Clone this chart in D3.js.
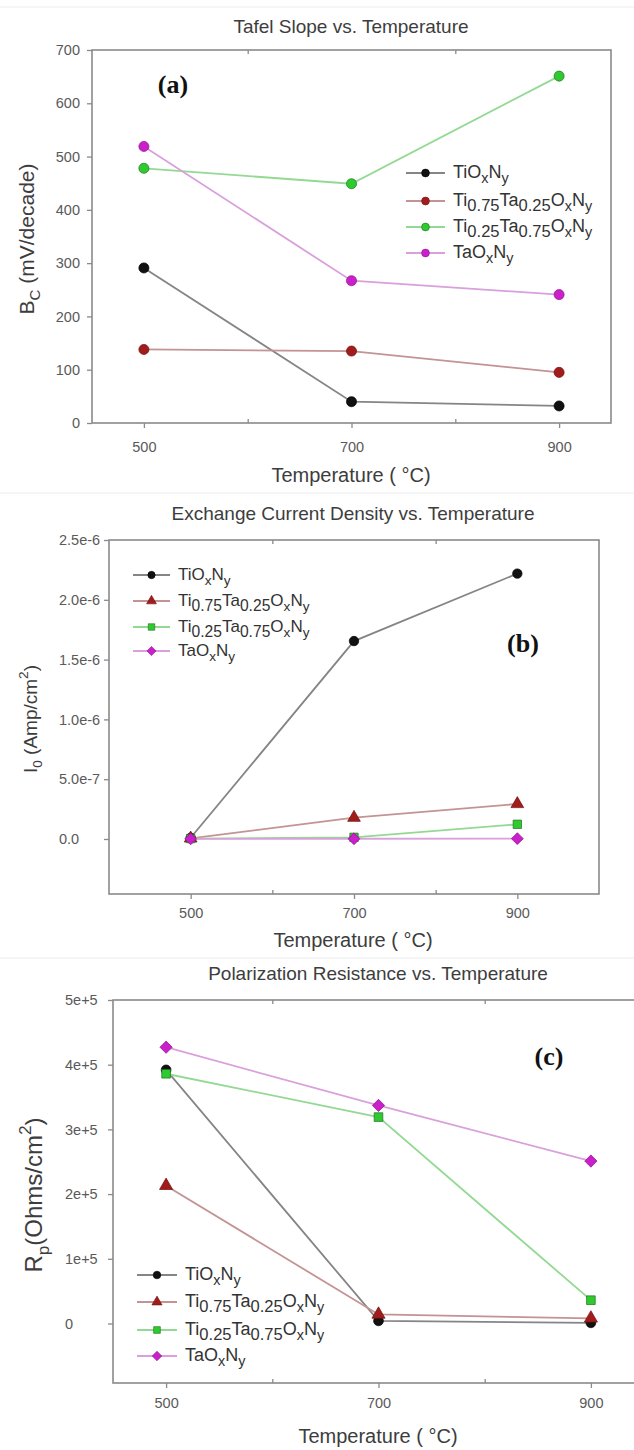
<!DOCTYPE html>
<html>
<head>
<meta charset="utf-8">
<script src="https://cdn.jsdelivr.net/npm/d3@7"></script>
<style>
  body { margin: 0; background: #fff; }
  svg { display: block; font-family: "Liberation Sans", Arial, sans-serif; }
</style>
</head>
<body>
<div id="chart"></div>
<script>
// temperatures shared by the three panels
const temps = [500, 700, 900];
const xTickLabels = ["500", "700", "900"];
const seriesLabels = ["TiO_{x}N_{y}", "Ti_{0.75}Ta_{0.25}O_{x}N_{y}", "Ti_{0.25}Ta_{0.75}O_{x}N_{y}", "TaO_{x}N_{y}"];

// (a) Tafel slope, mV/decade
const bcTiOxNy = [291, 40, 32];
const bcTi75Ta25 = [138, 135, 95];
const bcTi25Ta75 = [478, 449, 651];
const bcTaOxNy = [519, 267, 241];
const bcTicks = [0, 100, 200, 300, 400, 500, 600, 700];
const bcTickLabels = ["0", "100", "200", "300", "400", "500", "600", "700"];

// (b) exchange current density, Amp/cm2
const i0TiOxNy = [0.01e-6, 1.655e-6, 2.219e-6];
const i0Ti75Ta25 = [0.005e-6, 0.178e-6, 0.293e-6];
const i0Ti25Ta75 = [0.003e-6, 0.014e-6, 0.123e-6];
const i0TaOxNy = [0.001e-6, 0.002e-6, 0.003e-6];
const i0Ticks = [0, 5e-7, 1e-6, 1.5e-6, 2e-6, 2.5e-6];
const i0TickLabels = ["0.0", "5.0e-7", "1.0e-6", "1.5e-6", "2.0e-6", "2.5e-6"];

// (c) polarization resistance, Ohms/cm2
const rpTiOxNy = [3.92e5, 0.04e5, 0.01e5];
const rpTi75Ta25 = [2.13e5, 0.14e5, 0.08e5];
const rpTi25Ta75 = [3.86e5, 3.19e5, 0.36e5];
const rpTaOxNy = [4.27e5, 3.37e5, 2.51e5];
const rpTicks = [0, 1e5, 2e5, 3e5, 4e5, 5e5];
const rpTickLabels = ["0", "1e+5", "2e+5", "3e+5", "4e+5", "5e+5"];

const lineColors = ["#858585", "#c49393", "#93d993", "#d9a0dc"];
const markColors = ["#111111", "#a31c1c", "#2ecb2e", "#cc1fcc"];
const markEdges = ["#000000", "#6e1010", "#1f6f1f", "#8a168a"];

const W = 634, H = 1450;
const svg = d3.select("#chart").append("svg")
    .attr("width", W)
    .attr("height", H);

// faint separators between the stacked figures
[7, 493, 958].forEach(y => {
  svg.append("line").attr("x1", 0).attr("x2", W).attr("y1", y).attr("y2", y)
     .attr("stroke", "#ececec").attr("stroke-width", 1);
});

// text with _{sub} and ^{sup} parts
function rich(t, str, fs, subScale) {
  const re = /([_^])\{([^}]*)\}|([^_^]+)/g;
  let m, cur = 0;
  while ((m = re.exec(str))) {
    let target = 0, size = fs, txt = m[3];
    if (m[1] === "_") { txt = m[2]; target = fs * 0.28; size = fs * subScale(txt); }
    else if (m[1] === "^") { txt = m[2]; target = -fs * 0.45; size = fs * 0.72; }
    t.append("tspan").attr("dy", target - cur).style("font-size", size + "px").text(txt);
    cur = target;
  }
}
const legendSub = s => /\d/.test(s) ? 0.92 : 0.8;

const panels = [
  {
    title: "Tafel Slope vs. Temperature", titleX: 351, titleY: 33,
    left: 92, right: 611, top: 50, bottom: 423, xRangeEnd: 611,
    xDomain: [450, 950], yDomain: [0, 700],
    yTicks: bcTicks, yTickLabels: bcTickLabels, yLabelAt: 80, yAnchor: "end", xPad: 14,
    yLabel: "B_{C} (mV/decade)", yLabelSize: 21, yLabelX: 34, yLabelY: 239,
    xLabelX: 351, xLabelY: 482,
    tag: "(a)", tagX: 173, tagY: 93,
    series: [bcTiOxNy, bcTi75Ta25, bcTi25Ta75, bcTaOxNy],
    symbols: ["circle", "circle", "circle", "circle"], markSize: 80,
    legX: 406, legLine: 39, legRows: [173, 201, 227, 253], legSize: 18
  },
  {
    title: "Exchange Current Density vs. Temperature", titleX: 353, titleY: 520,
    left: 109, right: 599, top: 540, bottom: 894, xRangeEnd: 599,
    xDomain: [400, 1000], yDomain: [-4.6e-7, 2.5e-6],
    yTicks: i0Ticks, yTickLabels: i0TickLabels, yLabelAt: 59, yAnchor: "start", xPad: 9,
    yLabel: "I_{0} (Amp/cm^{2})", yLabelSize: 19, yLabelX: 37, yLabelY: 719,
    xLabelX: 353, xLabelY: 947,
    tag: "(b)", tagX: 523, tagY: 652,
    series: [i0TiOxNy, i0Ti75Ta25, i0Ti25Ta75, i0TaOxNy],
    symbols: ["circle", "triangle", "square", "diamond"], markSize: 70,
    legX: 133, legLine: 37, legRows: [575, 601, 627, 651], legSize: 17
  },
  {
    title: "Polarization Resistance vs. Temperature", titleX: 378, titleY: 980,
    left: 113, right: 660, top: 1000, bottom: 1383, xRangeEnd: 644,
    xDomain: [450, 950], yDomain: [-0.92e5, 5e5],
    yTicks: rpTicks, yTickLabels: rpTickLabels, yLabelAt: 65, yAnchor: "start", xPad: 10,
    yLabel: "R_{p}(Ohms/cm^{2})", yLabelSize: 24, yLabelX: 42, yLabelY: 1195,
    xLabelX: 378, xLabelY: 1443,
    tag: "(c)", tagX: 549, tagY: 1065,
    series: [rpTiOxNy, rpTi75Ta25, rpTi25Ta75, rpTaOxNy],
    symbols: ["circle", "triangle", "square", "diamond"], markSize: 75,
    legX: 137, legLine: 40, legRows: [1275, 1302, 1330, 1356], legSize: 18
  }
];

function symbolPath(type, size) {
  const t = { circle: d3.symbolCircle, triangle: d3.symbolTriangle,
              square: d3.symbolSquare, diamond: d3.symbolSquare }[type];
  return d3.symbol().type(t).size(size)();
}
function symbolRot(type) { return type === "diamond" ? " rotate(45)" : ""; }

panels.forEach(p => {
  const g = svg.append("g");

  const x = d3.scaleLinear().domain(p.xDomain).range([p.left, p.xRangeEnd]);
  const y = d3.scaleLinear().domain(p.yDomain).range([p.bottom, p.top]);

  // title
  g.append("text")
    .attr("x", p.titleX).attr("y", p.titleY)
    .attr("text-anchor", "middle")
    .style("font-size", "19px").style("fill", "#3d3d3d")
    .text(p.title);

  // frame
  g.append("rect")
    .attr("x", p.left).attr("y", p.top)
    .attr("width", p.right - p.left).attr("height", p.bottom - p.top)
    .attr("fill", "none").attr("stroke", "#8a8a8a").attr("stroke-width", 1.6);

  // bottom axis, major ticks outward
  g.append("g")
    .attr("transform", `translate(0,${p.bottom})`)
    .call(d3.axisBottom(x).tickValues(temps).tickSize(5).tickPadding(p.xPad)
      .tickFormat((d, i) => xTickLabels[i]));
  // minor ticks inward at 600 and 800
  g.append("g").attr("transform", `translate(0,${p.bottom})`)
    .call(d3.axisBottom(x).tickValues([600, 800]).tickSize(-4).tickFormat(""));
  g.append("g").attr("transform", `translate(0,${p.top})`)
    .call(d3.axisTop(x).tickValues([600, 800]).tickSize(-4).tickFormat(""));

  const yAxis = g.append("g")
    .attr("transform", `translate(${p.left},0)`)
    .call(d3.axisLeft(y).tickValues(p.yTicks).tickSize(5)
      .tickFormat((d, i) => p.yTickLabels[i]));
  yAxis.selectAll(".tick text")
    .attr("x", p.yLabelAt - p.left)
    .attr("text-anchor", p.yAnchor);

  g.selectAll(".domain").remove();
  g.selectAll(".tick line").attr("stroke", "#8a8a8a").attr("stroke-width", 1.3);
  g.selectAll(".tick text")
    .style("font-size", "14.5px").style("fill", "#5a5a5a")
    .style("font-family", "'Liberation Sans', Arial, sans-serif");

  // axis titles
  g.append("text")
    .attr("x", p.xLabelX).attr("y", p.xLabelY)
    .attr("text-anchor", "middle")
    .style("font-size", "20px").style("fill", "#3d3d3d")
    .text("Temperature ( °C)");

  const yl = g.append("text")
    .attr("transform", `translate(${p.yLabelX},${p.yLabelY}) rotate(-90)`)
    .attr("text-anchor", "middle")
    .style("font-size", p.yLabelSize + "px").style("fill", "#3d3d3d");
  rich(yl, p.yLabel, p.yLabelSize, () => 0.72);

  // series lines then markers
  const line = d3.line().x((d, i) => x(temps[i])).y(d => y(d));
  p.series.forEach((vals, s) => {
    g.append("path")
      .attr("d", line(vals))
      .attr("fill", "none")
      .attr("stroke", lineColors[s])
      .attr("stroke-width", 1.8);
  });
  p.series.forEach((vals, s) => {
    g.selectAll(null)
      .data(vals)
      .join("path")
      .attr("transform", (d, i) => `translate(${x(temps[i])},${y(d)})` + symbolRot(p.symbols[s]))
      .attr("d", symbolPath(p.symbols[s], p.markSize))
      .attr("fill", markColors[s])
      .attr("stroke", markEdges[s])
      .attr("stroke-width", 0.7);
  });

  // legend
  seriesLabels.forEach((lab, s) => {
    const ry = p.legRows[s];
    g.append("line")
      .attr("x1", p.legX).attr("x2", p.legX + p.legLine)
      .attr("y1", ry).attr("y2", ry)
      .attr("stroke", lineColors[s]).attr("stroke-width", 1.8);
    g.append("path")
      .attr("transform", `translate(${p.legX + p.legLine / 2},${ry})` + symbolRot(p.symbols[s]))
      .attr("d", symbolPath(p.symbols[s], p.markSize * 0.6))
      .attr("fill", markColors[s])
      .attr("stroke", markEdges[s])
      .attr("stroke-width", 0.6);
    const t = g.append("text")
      .attr("x", p.legX + p.legLine + 8).attr("y", ry + 5)
      .style("font-size", p.legSize + "px").style("fill", "#333");
    rich(t, lab, p.legSize, legendSub);
  });

  // panel tag
  g.append("text")
    .attr("x", p.tagX).attr("y", p.tagY)
    .attr("text-anchor", "middle")
    .style("font-family", "'Liberation Serif', 'Times New Roman', serif")
    .style("font-weight", "bold")
    .style("font-size", "26px").style("fill", "#111")
    .text(p.tag);
});
</script>
</body>
</html>
